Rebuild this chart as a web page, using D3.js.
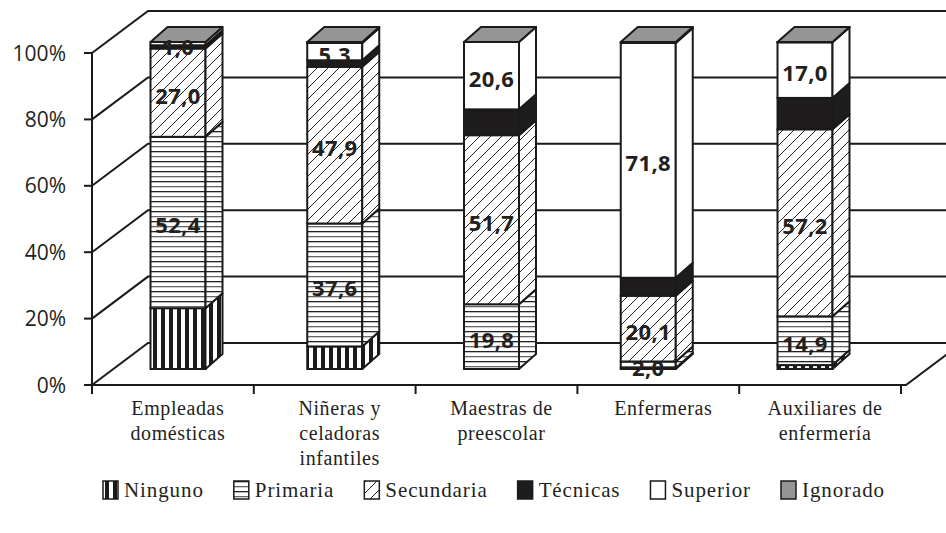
<!DOCTYPE html>
<html>
<head>
<meta charset="utf-8">
<script src="https://cdn.jsdelivr.net/npm/d3@7"></script>
<style>
  body { margin: 0; background: #fff; }
  svg { display: block; }
</style>
</head>
<body>
<div id="chart"></div>
<script>
// Categories (one entry per line of the label)
const categories = [
    ["Empleadas", "domésticas"],
    ["Niñeras y", "celadoras", "infantiles"],
    ["Maestras de", "preescolar"],
    ["Enfermeras"],
    ["Auxiliares de", "enfermería"]
];
const levels = ["Ninguno", "Primaria", "Secundaria", "Técnicas", "Superior", "Ignorado"];

// Percentages per level, one value per category
const ninguno    = [18.6,  6.9,  0.0,  0.3,  1.2];
const primaria   = [52.4, 37.6, 19.8,  2.0, 14.9];
const secundaria = [27.0, 47.9, 51.7, 20.1, 57.2];
const tecnicas   = [ 1.0,  2.0,  7.9,  5.5,  9.6];
const superior   = [ 1.0,  5.3, 20.6, 71.8, 17.0];
const ignorado   = [ 0.0,  0.3,  0.0,  0.3,  0.1];

// which levels carry a printed value
const labelled = ["Primaria", "Secundaria", "Superior"];
const yTicks = [0, 20, 40, 60, 80, 100];

const series = [ninguno, primaria, secundaria, tecnicas, superior, ignorado];

const width = 946, height = 533;
const wallDx = 56, wallDy = -42;   // depth of the walls
const barDx = 17, barDy = -15;     // depth of each column

const svg = d3.select("#chart").append("svg")
    .attr("width", width)
    .attr("height", height)
    .attr("viewBox", `0 0 ${width} ${height}`);

const defs = svg.append("defs");

// Ninguno: thick vertical stripes
const pNin = defs.append("pattern").attr("id", "p-ninguno")
    .attr("patternUnits", "userSpaceOnUse").attr("width", 8).attr("height", 8);
pNin.append("rect").attr("width", 8).attr("height", 8).attr("fill", "#fff");
pNin.append("rect").attr("x", 1).attr("width", 4).attr("height", 8).attr("fill", "#1a1a1a");

// Primaria: horizontal lines (dark and grey)
const pPri = defs.append("pattern").attr("id", "p-primaria")
    .attr("patternUnits", "userSpaceOnUse").attr("width", 10).attr("height", 10);
pPri.append("rect").attr("width", 10).attr("height", 10).attr("fill", "#fff");
pPri.append("rect").attr("y", 1).attr("width", 10).attr("height", 1.3).attr("fill", "#222");
pPri.append("rect").attr("y", 6).attr("width", 10).attr("height", 1.3).attr("fill", "#666");

// Secundaria: sparse diagonal lines
const pSec = defs.append("pattern").attr("id", "p-secundaria")
    .attr("patternUnits", "userSpaceOnUse").attr("width", 11).attr("height", 11);
pSec.append("rect").attr("width", 11).attr("height", 11).attr("fill", "#fff");
pSec.append("path").attr("d", "M-1,12 L12,-1 M-3,3 L3,-3 M8,14 L14,8")
    .attr("stroke", "#222").attr("stroke-width", 1);

const fills = {
    "Ninguno": "url(#p-ninguno)",
    "Primaria": "url(#p-primaria)",
    "Secundaria": "url(#p-secundaria)",
    "Técnicas": "#1e1c1c",
    "Superior": "#ffffff",
    "Ignorado": "#959595"
};

// Scales
const idx = d3.range(categories.length);
const x = d3.scaleBand().domain(idx).range([92, 901]);      // front floor / labels
const xBar = d3.scalePoint().domain(idx).range([178, 805]); // column centres (deeper plane)

const y = d3.scaleLinear().domain([0, 100]).range([385, 53]);   // front axis
const yBar = d3.scaleLinear().domain([0, 100]).range([369, 42]); // column front plane

const barW = 55;
const barX = i => xBar(i) - barW / 2;

const ink = "#1a1a1a";

// Walls and gridlines
const grid = svg.append("g").attr("fill", "none").attr("stroke", ink).attr("stroke-width", 2);
grid.selectAll("path.grid")
    .data(yTicks)
    .join("path")
    .attr("class", "grid")
    .attr("d", t => `M${x.range()[0]},${y(t)} L${x.range()[0] + wallDx},${y(t) + wallDy} L${width + 5},${y(t) + wallDy}`);

// floor front edge + right edge
grid.append("path")
    .attr("d", `M${x.range()[0]},${y(0)} L${x.range()[1] + 5},${y(0)} L${x.range()[1] + 5 + wallDx},${y(0) + wallDy}`);

// y axis line and ticks
grid.append("line")
    .attr("x1", x.range()[0]).attr("x2", x.range()[0])
    .attr("y1", y(100)).attr("y2", y(0));
grid.selectAll("line.ytick")
    .data(yTicks)
    .join("line")
    .attr("class", "ytick")
    .attr("x1", x.range()[0] - 8).attr("x2", x.range()[0])
    .attr("y1", d => y(d)).attr("y2", d => y(d));

// x axis ticks at category boundaries
const bounds = d3.range(categories.length + 1).map(i => x.range()[0] + i * x.step());
grid.selectAll("line.xtick")
    .data(bounds)
    .join("line")
    .attr("class", "xtick")
    .attr("x1", d => d).attr("x2", d => d)
    .attr("y1", y(0)).attr("y2", y(0) + 9);

// y tick labels
svg.append("g").selectAll("text")
    .data(yTicks)
    .join("text")
    .attr("x", 66)
    .attr("y", d => y(d))
    .attr("dy", "0.36em")
    .attr("text-anchor", "end")
    .attr("font-family", "'Open Sans', sans-serif")
    .attr("font-size", 21)
    .attr("fill", "#231f20")
    .text(d => d + "%");

// Stack the data
const rows = categories.map((c, i) => {
    const r = { index: i };
    levels.forEach((l, k) => r[l] = series[k][i]);
    return r;
});
const stacked = d3.stack().keys(levels)(rows);

// Columns
const bars = svg.append("g");
rows.forEach((r, i) => {
    const x0 = barX(i);
    const g = bars.append("g");
    stacked.forEach(layer => {
        const d = layer[i];
        const yb = yBar(d[0]), yt = yBar(d[1]);
        const key = layer.key;
        if (d[1] - d[0] > 0) {
            g.append("rect")
                .attr("x", x0).attr("y", yt)
                .attr("width", barW).attr("height", yb - yt)
                .attr("fill", fills[key])
                .attr("stroke", ink).attr("stroke-width", 2);
            g.append("path")
                .attr("d", `M${x0 + barW},${yb} L${x0 + barW + barDx},${yb + barDy} L${x0 + barW + barDx},${yt + barDy} L${x0 + barW},${yt} Z`)
                .attr("fill", fills[key])
                .attr("stroke", ink).attr("stroke-width", 2)
                .attr("stroke-linejoin", "round");
        }
    });
    // top face in the colour of the last level
    const top = yBar(100);
    g.append("path")
        .attr("d", `M${x0},${top} L${x0 + barDx},${top + barDy} L${x0 + barW + barDx},${top + barDy} L${x0 + barW},${top} Z`)
        .attr("fill", fills["Ignorado"])
        .attr("stroke", ink).attr("stroke-width", 2)
        .attr("stroke-linejoin", "round");
});

// Value labels
const labels = svg.append("g")
    .attr("font-family", "'Open Sans', sans-serif")
    .attr("font-weight", 700)
    .attr("font-size", 22)
    .attr("letter-spacing", 0.4)
    .attr("fill", "#231f20")
    .attr("text-anchor", "middle");
stacked.filter(layer => labelled.includes(layer.key)).forEach(layer => {
    layer.forEach((d, i) => {
        labels.append("text")
            .attr("x", barX(i) + barW / 2)
            .attr("y", (yBar(d[0]) + yBar(d[1])) / 2 + 3)
            .attr("dy", "0.36em")
            .text(d3.format(".1f")(d[1] - d[0]).replace(".", ","));
    });
});

// Category labels
const cat = svg.append("g")
    .attr("font-family", "'Liberation Serif', serif")
    .attr("font-size", 20)
    .attr("letter-spacing", 0.6)
    .attr("fill", "#231f20")
    .attr("text-anchor", "middle");
categories.forEach((lines, i) => {
    const cx = x(i) + x.bandwidth() / 2 + 5;
    const t = cat.append("text").attr("x", cx).attr("y", 415);
    lines.forEach((ln, k) => {
        t.append("tspan")
            .attr("x", cx)
            .attr("y", 415 + k * 25)
            .text(ln);
    });
});

// Legend
const legend = svg.append("g")
    .attr("font-family", "'Liberation Serif', serif")
    .attr("font-size", 21)
    .attr("letter-spacing", 0.9)
    .attr("fill", "#231f20");
let lx = 103;
levels.forEach(l => {
    legend.append("rect")
        .attr("x", lx).attr("y", 481)
        .attr("width", 15).attr("height", 18)
        .attr("fill", fills[l])
        .attr("stroke", ink).attr("stroke-width", 1.5);
    const t = legend.append("text")
        .attr("x", lx + 21).attr("y", 497)
        .text(l);
    lx += 21 + t.node().getComputedTextLength() + 30;
});
</script>
</body>
</html>
